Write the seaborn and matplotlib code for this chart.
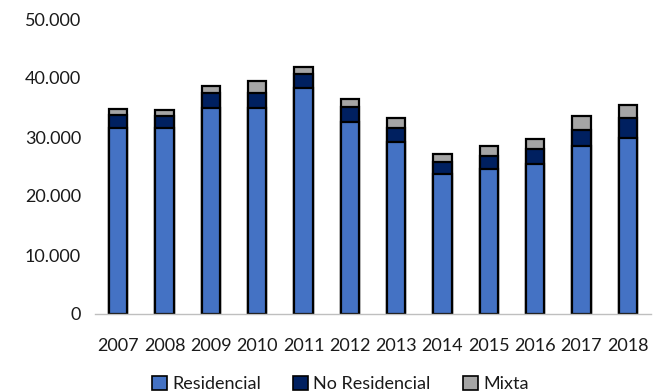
import matplotlib
matplotlib.use("Agg")
import matplotlib.pyplot as plt
from matplotlib.patches import Patch
from matplotlib.ticker import FuncFormatter
import numpy as np
import pandas as pd
import seaborn as sns

years = ["2007", "2008", "2009", "2010", "2011", "2012",
         "2013", "2014", "2015", "2016", "2017", "2018"]
residencial = [31600, 31500, 34900, 35000, 38300, 32500,
               29100, 23800, 24600, 25500, 28400, 29800]
no_residencial = [2100, 2100, 2500, 2400, 2300, 2600,
                  2500, 2000, 2200, 2500, 2800, 3400]
mixta = [1000, 900, 1300, 2100, 1300, 1400,
         1700, 1300, 1600, 1700, 2400, 2300]

series_names = ["Residencial", "No Residencial", "Mixta"]
colors = ["#4472C4", "#002060", "#A5A5A5"]

sns.set_theme(style="white")
plt.rcParams["font.family"] = ["Lato", "DejaVu Sans"]

df = pd.DataFrame({
    "year": years,
    "Residencial": residencial,
    "No Residencial": no_residencial,
    "Mixta": mixta,
})
# cumulative heights so each layer is drawn from the baseline
df["top_res"] = df["Residencial"]
df["top_nores"] = df["Residencial"] + df["No Residencial"]
df["top_mixta"] = df["top_nores"] + df["Mixta"]

fig = plt.figure(figsize=(6.62, 3.92), dpi=100)
ax = fig.add_axes([95 / 662, 78 / 392, 556 / 662, 295 / 392])

for col, color in zip(["top_mixta", "top_nores", "top_res"], colors[::-1]):
    sns.barplot(data=df, x="year", y=col, color=color, width=0.39,
                edgecolor="black", linewidth=1.6, saturation=1,
                ax=ax, errorbar=None)

ax.set_ylim(0, 50000)
ax.set_yticks(np.arange(0, 50001, 10000))
ax.yaxis.set_major_formatter(
    FuncFormatter(lambda v, _: f"{int(v):,}".replace(",", ".")))
ax.set_xlabel("")
ax.set_ylabel("")
ax.tick_params(axis="both", length=0, labelsize=13, colors="#1a1a1a")
ax.tick_params(axis="y", pad=10)
ax.tick_params(axis="x", pad=17)

for side in ["left", "right", "top"]:
    ax.spines[side].set_visible(False)
ax.spines["bottom"].set_color("#BFBFBF")
ax.spines["bottom"].set_linewidth(1.0)

handles = [Patch(facecolor=c, edgecolor="black", linewidth=1.2, label=n)
           for c, n in zip(colors, series_names)]
fig.legend(handles=handles, loc="lower center", ncol=3,
           bbox_to_anchor=(0.514, -0.042), frameon=False, fontsize=13,
           handlelength=0.8, handleheight=0.8, handletextpad=0.3,
           columnspacing=1.8, labelcolor="#1a1a1a")

fig.savefig("out.png", dpi=100)
